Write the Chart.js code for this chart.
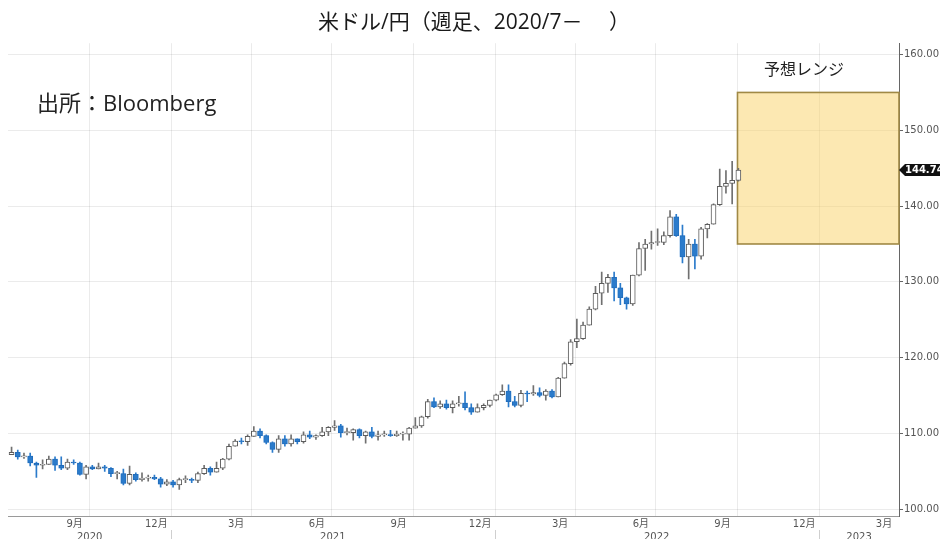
<!DOCTYPE html>
<html lang="ja">
<head>
<meta charset="UTF-8">
<title>米ドル/円 週足</title>
<script src="https://cdn.jsdelivr.net/npm/chart.js@4.4.1/dist/chart.umd.min.js"></script>
<style>
  html, body { margin: 0; padding: 0; background: #fff; }
  canvas { display: block; }
</style>
</head>
<body>
<canvas id="usdJpyChart" width="940" height="539"></canvas>
<script>
// weekly USD/JPY candles, first bar = week ending 2020-07-05
const firstWeek = '2020-07-05';
const weekOpen = [
  107.2, 107.5, 106.9, 107.0, 106.1, 105.8, 105.9, 106.6, 105.8, 105.4,
  106.2, 106.1, 104.6, 105.6, 105.3, 105.6, 105.4, 104.7, 104.7, 103.4,
  104.6, 103.9, 104.1, 104.2, 104.0, 103.3, 103.6, 103.2, 103.9, 103.9,
  103.8, 104.7, 105.4, 104.9, 105.4, 106.6, 108.3, 109.0, 108.9, 109.6,
  110.3, 109.7, 108.8, 107.9, 109.3, 108.6, 109.3, 108.9, 109.8, 109.5,
  109.7, 110.2, 110.8, 111.0, 110.1, 110.1, 110.5, 109.7, 110.2, 109.6,
  109.8, 109.8, 109.7, 109.9, 109.9, 110.7, 111.0, 112.2, 114.2, 113.5,
  113.9, 113.4, 113.9, 114.0, 113.4, 112.8, 113.4, 113.7, 114.4, 115.1,
  115.6, 114.2, 113.7, 115.3, 115.2, 115.4, 115.0, 115.6, 114.8, 117.3,
  119.2, 122.1, 122.5, 124.3, 126.4, 128.5, 129.8, 130.6, 129.2, 127.9,
  127.1, 130.9, 134.4, 135.0, 135.2, 135.2, 136.1, 138.6, 136.1, 133.3,
  135.0, 133.4, 137.0, 137.6, 140.2, 142.6, 143.0, 143.4
];
const weekHigh = [
  108.2, 107.8, 107.4, 107.4, 106.2, 106.5, 107.0, 106.9, 106.9, 106.6,
  106.5, 106.2, 105.8, 105.8, 106.1, 105.8, 105.5, 105.0, 105.3, 105.7,
  104.8, 104.8, 104.5, 104.5, 104.2, 103.9, 103.8, 104.1, 104.4, 104.1,
  104.9, 105.8, 105.6, 106.2, 106.7, 108.6, 109.2, 109.4, 109.8, 110.9,
  110.6, 109.8, 108.9, 109.7, 109.7, 109.8, 109.3, 110.2, 110.3, 109.8,
  110.8, 110.9, 111.7, 111.2, 110.7, 110.6, 110.6, 110.3, 110.8, 110.3,
  110.3, 110.4, 110.3, 110.2, 110.8, 112.1, 112.3, 114.5, 114.7, 114.3,
  114.4, 114.3, 114.9, 115.5, 113.9, 113.9, 113.9, 114.4, 115.2, 116.4,
  116.4, 114.9, 115.7, 115.6, 116.3, 116.0, 115.8, 115.8, 117.4, 119.4,
  122.4, 125.1, 124.7, 126.7, 129.4, 131.3, 131.0, 131.3, 129.8, 128.0,
  130.9, 135.2, 135.6, 136.7, 137.0, 136.6, 139.4, 138.9, 137.5, 135.6,
  135.6, 137.2, 137.7, 140.3, 144.9, 144.7, 145.9, 145.0
];
const weekLow = [
  107.2, 106.6, 106.7, 105.7, 104.2, 105.3, 105.9, 105.1, 105.2, 105.2,
  105.9, 104.5, 104.0, 105.2, 105.3, 105.0, 104.3, 104.0, 103.2, 103.2,
  103.7, 103.7, 103.7, 103.9, 102.9, 103.1, 102.9, 102.6, 103.5, 103.5,
  103.5, 104.6, 104.5, 104.9, 105.2, 106.5, 108.3, 108.6, 108.4, 109.6,
  109.4, 108.6, 107.5, 107.5, 108.3, 108.3, 108.6, 108.7, 109.3, 109.2,
  109.6, 109.7, 110.4, 109.5, 109.8, 109.1, 109.4, 108.7, 109.4, 109.1,
  109.6, 109.6, 109.6, 109.1, 109.1, 110.7, 110.8, 112.0, 113.4, 113.3,
  113.2, 112.7, 113.6, 113.1, 112.5, 112.8, 113.1, 113.5, 114.3, 115.0,
  113.5, 113.5, 113.5, 114.2, 115.0, 114.8, 114.4, 114.7, 114.8, 117.3,
  119.0, 121.3, 122.4, 124.3, 126.3, 127.0, 128.6, 127.5, 127.0, 126.4,
  126.9, 130.8, 131.5, 134.3, 134.8, 134.9, 135.9, 136.0, 132.5, 130.4,
  131.7, 133.0, 135.8, 137.6, 140.1, 141.7, 140.3, 143.3
];
const weekClose = [
  107.5, 106.9, 107.0, 106.1, 105.8, 105.9, 106.6, 105.8, 105.4, 106.2,
  106.1, 104.6, 105.6, 105.3, 105.6, 105.4, 104.7, 104.7, 103.4, 104.6,
  103.9, 104.1, 104.2, 104.0, 103.3, 103.6, 103.2, 103.9, 103.9, 103.8,
  104.7, 105.4, 104.9, 105.4, 106.6, 108.3, 109.0, 108.9, 109.6, 110.3,
  109.7, 108.8, 107.9, 109.3, 108.6, 109.3, 108.9, 109.8, 109.5, 109.7,
  110.2, 110.8, 111.0, 110.1, 110.1, 110.5, 109.7, 110.2, 109.6, 109.8,
  109.8, 109.7, 109.9, 109.9, 110.7, 111.0, 112.2, 114.2, 113.5, 113.9,
  113.4, 113.9, 114.0, 113.4, 112.8, 113.4, 113.7, 114.4, 115.1, 115.6,
  114.2, 113.7, 115.3, 115.2, 115.4, 115.0, 115.6, 114.8, 117.3, 119.2,
  122.1, 122.5, 124.3, 126.4, 128.5, 129.8, 130.6, 129.2, 127.9, 127.1,
  130.9, 134.4, 135.0, 135.2, 135.2, 136.1, 138.6, 136.1, 133.3, 135.0,
  133.4, 137.0, 137.6, 140.2, 142.6, 143.0, 143.4, 144.74
];

// axis ticks
const axisStart = '2020-07-01';
const axisEnd = '2023-04-01';
const quarterStarts = ['2020-10-01', '2021-01-01', '2021-04-01', '2021-07-01', '2021-10-01',
  '2022-01-01', '2022-04-01', '2022-07-01', '2022-10-01', '2023-01-01', '2023-04-01'];
const monthLabels = ['9月', '12月', '3月', '6月', '9月', '12月', '3月', '6月', '9月', '12月', '3月'];
const yearLabels = ['2020', '2021', '2022', '2023'];
const yearCenters = ['2020-10-01', '2021-07-02', '2022-07-02', '2023-02-15'];
const yearStarts = ['2021-01-01', '2022-01-01', '2023-01-01'];
const yTicks = [100, 110, 120, 130, 140, 150, 160];

// forecast range
const rangeFrom = '2022-10-01';
const rangeTo = '2023-04-01';
const rangeLow = 135;
const rangeHigh = 155;

const DAY = 86400000;
const dayNum = s => (Date.parse(s) - Date.parse(axisStart)) / DAY;
const weekX = weekClose.map((_, i) => dayNum(firstWeek) + i * 7);

const DOWN = '#2b7bcb';
const UP_LINE = '#5c5c5c';
const LABEL_FONT = "'DejaVu Sans', 'Noto Sans CJK JP', sans-serif";
const JP_FONT = "'Open Sans', 'Noto Sans CJK JP', sans-serif";

const upBodies = [], downBodies = [], wicks = [], wickColors = [];
weekClose.forEach((c, i) => {
  const o = weekOpen[i];
  const pt = { x: weekX[i], y: [o, c] };
  if (c >= o) upBodies.push(pt); else downBodies.push(pt);
  wicks.push({ x: weekX[i], y: [weekLow[i], weekHigh[i]] });
  wickColors.push(c >= o ? '#707070' : DOWN);
});

// soft blue halo around falling candles
const glow = {
  id: 'glow',
  beforeDatasetDraw(chart, args) {
    if (args.index !== 0) return;
    chart.ctx.save();
    chart.ctx.shadowColor = 'rgba(60, 150, 235, 0.7)';
    chart.ctx.shadowBlur = 5;
  },
  afterDatasetDraw(chart, args) {
    if (args.index === 0) chart.ctx.restore();
  }
};

const overlay = {
  id: 'overlay',
  beforeDatasetsDraw(chart) {
    const { ctx, scales: { x, y } } = chart;
    const l = x.getPixelForValue(dayNum(rangeFrom));
    const r = x.getPixelForValue(dayNum(rangeTo));
    const t = y.getPixelForValue(rangeHigh);
    const b = y.getPixelForValue(rangeLow);
    ctx.save();
    ctx.fillStyle = 'rgba(249, 209, 101, 0.5)';
    ctx.fillRect(l, t, r - l, b - t);
    ctx.strokeStyle = '#a08945';
    ctx.lineWidth = 1.6;
    ctx.strokeRect(l, t, r - l, b - t);
    ctx.restore();
  },
  afterDraw(chart) {
    const { ctx, scales: { x, y } } = chart;
    ctx.save();
    // year separators under the axis
    ctx.strokeStyle = '#cfcfcf';
    ctx.lineWidth = 1;
    yearStarts.forEach(d => {
      const px = Math.round(x.getPixelForValue(dayNum(d))) + 0.5;
      ctx.beginPath();
      ctx.moveTo(px, x.bottom);
      ctx.lineTo(px, chart.height);
      ctx.stroke();
    });

    ctx.fillStyle = '#222';
    ctx.textBaseline = 'middle';
    ctx.font = '22px ' + JP_FONT;
    ctx.textAlign = 'left';
    ctx.fillText('出所：Bloomberg', 37, 105);
    ctx.font = '16px ' + JP_FONT;
    ctx.textAlign = 'center';
    ctx.fillText('予想レンジ', 804, 70);

    // last price tag
    const last = weekClose[weekClose.length - 1];
    const py = Math.round(y.getPixelForValue(last));
    const x0 = y.left;
    ctx.fillStyle = '#111';
    ctx.beginPath();
    ctx.moveTo(x0, py);
    ctx.lineTo(x0 + 6, py - 6);
    ctx.lineTo(chart.width, py - 6);
    ctx.lineTo(chart.width, py + 6);
    ctx.lineTo(x0 + 6, py + 6);
    ctx.closePath();
    ctx.fill();
    ctx.fillStyle = '#fff';
    ctx.font = 'bold 10px ' + LABEL_FONT;
    ctx.textAlign = 'left';
    ctx.fillText(last.toFixed(2), x0 + 6, py + 0.5);
    ctx.restore();
  }
};

const gridColor = 'rgba(0, 0, 0, 0.08)';

new Chart(document.getElementById('usdJpyChart'), {
  type: 'bar',
  data: {
    datasets: [
      {
        label: '陰線',
        data: downBodies,
        backgroundColor: DOWN,
        borderColor: '#1f68b5',
        borderWidth: 1,
        borderSkipped: false,
        barThickness: 5,
        minBarLength: 1,
        grouped: false
      },
      {
        label: '陽線',
        data: upBodies,
        backgroundColor: '#ffffff',
        borderColor: UP_LINE,
        borderWidth: 1,
        borderSkipped: false,
        barThickness: 5,
        minBarLength: 1,
        grouped: false
      },
      {
        label: '高値・安値',
        data: wicks,
        backgroundColor: wickColors,
        barThickness: 1,
        grouped: false
      }
    ]
  },
  options: {
    responsive: false,
    animation: false,
    layout: { padding: { left: 8 } },
    plugins: {
      legend: { display: false },
      tooltip: { enabled: false },
      title: {
        display: true,
        text: '米ドル/円（週足、2020/7－　 ）',
        color: '#1a1a1a',
        font: { size: 21, family: JP_FONT, weight: 'normal' },
        padding: { top: 10, bottom: 8 }
      }
    },
    scales: {
      x: {
        type: 'linear',
        min: 0,
        max: dayNum(axisEnd),
        offset: false,
        grid: { offset: false, color: gridColor, drawTicks: false },
        border: { color: '#9a9a9a' },
        afterBuildTicks: s => { s.ticks = quarterStarts.map(d => ({ value: dayNum(d) })); },
        afterFit: s => { s.height = 14; },
        ticks: {
          autoSkip: false,
          maxRotation: 0,
          labelOffset: -15,
          padding: 2,
          color: '#555',
          font: { size: 10, family: LABEL_FONT },
          callback: (v, i) => monthLabels[i]
        }
      },
      xYear: {
        type: 'linear',
        position: 'bottom',
        weight: 1,
        min: 0,
        max: dayNum(axisEnd),
        offset: false,
        grid: { display: false, drawTicks: false },
        border: { display: false },
        afterBuildTicks: s => { s.ticks = yearCenters.map(d => ({ value: dayNum(d) })); },
        afterFit: s => { s.height = 9; },
        ticks: {
          autoSkip: false,
          maxRotation: 0,
          padding: 1,
          color: '#555',
          font: { size: 10, family: LABEL_FONT },
          callback: (v, i) => yearLabels[i]
        }
      },
      y: {
        position: 'right',
        min: 99.1,
        max: 161.5,
        grid: { color: gridColor, tickLength: 4, tickColor: '#666' },
        border: { color: '#666' },
        afterBuildTicks: s => { s.ticks = yTicks.map(v => ({ value: v })); },
        afterFit: s => { s.width = 41; },
        ticks: {
          padding: 1,
          color: '#555',
          font: { size: 10, family: LABEL_FONT },
          callback: v => v.toFixed(2)
        }
      }
    }
  },
  plugins: [glow, overlay]
});
</script>
</body>
</html>
